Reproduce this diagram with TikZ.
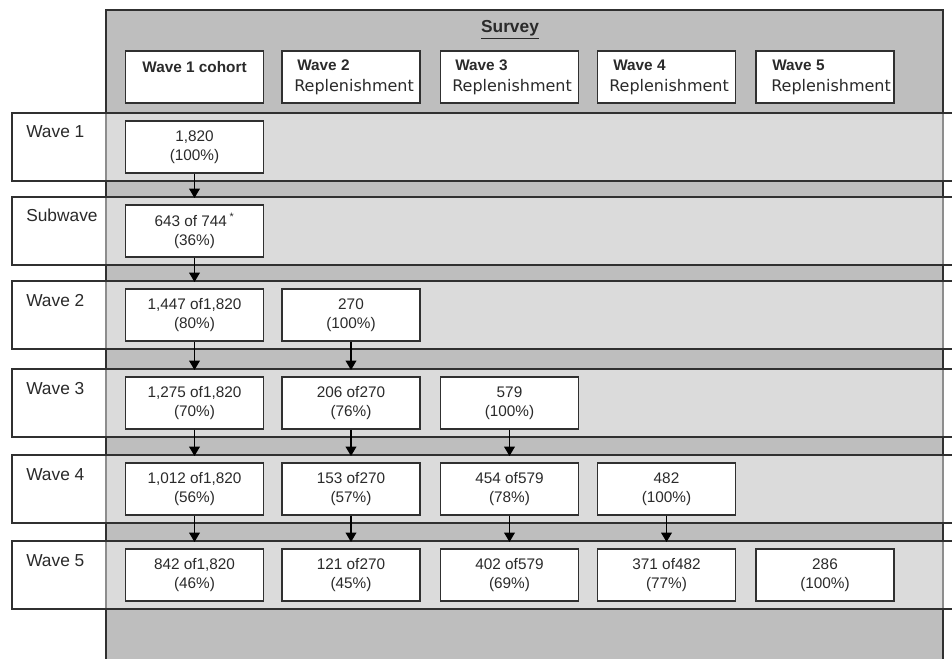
\documentclass[tikz,border=0pt]{standalone}
\usepackage{fontspec}
\setmainfont{Liberation Sans}
\newfontfamily\dvs{DejaVu Sans}
\usetikzlibrary{arrows.meta}
\definecolor{panelc}{HTML}{BEBEBE}
\definecolor{bordc}{HTML}{303030}
\definecolor{textc}{HTML}{2A2A2A}
\newcommand{\datafont}{\fontsize{11.5}{14.25}\selectfont}
\begin{document}
\begin{tikzpicture}[x=0.75pt,y=-0.75pt]
\tikzset{
 hbox/.style={draw=bordc, line width=1pt, fill=white, minimum width=103.5pt, minimum height=39pt, inner sep=0pt},
 dbox/.style={hbox, align=center, font=\datafont, text=textc},
 band/.style={draw=bordc, line width=1pt, fill=white, fill opacity=0.45},
 rowlab/.style={anchor=base west, font=\fontsize{13}{15}\selectfont, text=textc, inner sep=0pt},
 hbold/.style={anchor=base west, font=\fontsize{11.5}{13}\selectfont\bfseries, text=textc, inner sep=0pt},
 hrep/.style={anchor=base west, font=\dvs\fontsize{12}{14}\selectfont, text=textc, inner sep=0pt},
 arr/.style={draw=black, line width=1pt, -{Triangle[width=8pt,length=7pt]}},
}
\useasboundingbox (0,0) rectangle (952,659);
\fill[white] (0,0) rectangle (952,659);
% panel
\fill[panelc] (106,10) rectangle (943,680);
\draw[bordc, line width=1pt] (106,680) -- (106,10) -- (943,10) -- (943,680);
\node[font=\fontsize{13}{15}\selectfont\bfseries, text=textc, inner sep=0pt] (survey) at (510,30) {\underline{Survey}};
% header boxes
\node[hbox] (h1) at (194.5,77) {};
\node[hbox] (h2) at (351,77) {};
\node[hbox] (h3) at (509.5,77) {};
\node[hbox] (h4) at (666.5,77) {};
\node[hbox] (h5) at (825,77) {};
\node[anchor=base, font=\fontsize{11.5}{13}\selectfont\bfseries, text=textc, inner sep=0pt] (h1t) at (194.5,73) {Wave 1 cohort};
\node[hbold] (h2a) at (297,71) {Wave 2};
\node[hrep] (h2b) at (294,92) {Replenishment};
\node[hbold] (h3a) at (455,71) {Wave 3};
\node[hrep] (h3b) at (452,92) {Replenishment};
\node[hbold] (h4a) at (613,71) {Wave 4};
\node[hrep] (h4b) at (609,92) {Replenishment};
\node[hbold] (h5a) at (772,71) {Wave 5};
\node[hrep] (h5b) at (771,92) {Replenishment};
% row bands
\draw[band] (12,113) rectangle (962,181);
\draw[band] (12,197) rectangle (962,265);
\draw[band] (12,281) rectangle (962,349);
\draw[band] (12,369) rectangle (962,437);
\draw[band] (12,455) rectangle (962,523);
\draw[band] (12,541) rectangle (962,609);
\coordinate (t2) at (0,198);
\coordinate (t3) at (0,282);
\coordinate (t4) at (0,370);
\coordinate (t5) at (0,456);
\coordinate (t6) at (0,542);
% row labels
\node[rowlab] (l1) at (26,138) {Wave 1};
\node[rowlab] (l2) at (26,222) {Subwave};
\node[rowlab] (l3) at (26,306) {Wave 2};
\node[rowlab] (l4) at (26,394) {Wave 3};
\node[rowlab] (l5) at (26,480) {Wave 4};
\node[rowlab] (l6) at (26,566) {Wave 5};
% data boxes
\node[dbox] (a1) at (194.5,147) {1,820\\(100\%)};
\node[dbox] (b1) at (194.5,231) {643 of 744\,\textsuperscript{*}\\(36\%)};
\node[dbox] (c1) at (194.5,315) {1,447 of1,820\\(80\%)};
\node[dbox] (c2) at (351,315) {270\\(100\%)};
\node[dbox] (d1) at (194.5,403) {1,275 of1,820\\(70\%)};
\node[dbox] (d2) at (351,403) {206 of270\\(76\%)};
\node[dbox] (d3) at (509.5,403) {579\\(100\%)};
\node[dbox] (e1) at (194.5,489) {1,012 of1,820\\(56\%)};
\node[dbox] (e2) at (351,489) {153 of270\\(57\%)};
\node[dbox] (e3) at (509.5,489) {454 of579\\(78\%)};
\node[dbox] (e4) at (666.5,489) {482\\(100\%)};
\node[dbox] (f1) at (194.5,575) {842 of1,820\\(46\%)};
\node[dbox] (f2) at (351,575) {121 of270\\(45\%)};
\node[dbox] (f3) at (509.5,575) {402 of579\\(69\%)};
\node[dbox] (f4) at (666.5,575) {371 of482\\(77\%)};
\node[dbox] (f5) at (825,575) {286\\(100\%)};
% arrows
\draw[arr] (a1.south) -- (a1.south |- t2);
\draw[arr] (b1.south) -- (b1.south |- t3);
\draw[arr] (c1.south) -- (c1.south |- t4);
\draw[arr] (c2.south) -- (c2.south |- t4);
\draw[arr] (d1.south) -- (d1.south |- t5);
\draw[arr] (d2.south) -- (d2.south |- t5);
\draw[arr] (d3.south) -- (d3.south |- t5);
\draw[arr] (e1.south) -- (e1.south |- t6);
\draw[arr] (e2.south) -- (e2.south |- t6);
\draw[arr] (e3.south) -- (e3.south |- t6);
\draw[arr] (e4.south) -- (e4.south |- t6);
\end{tikzpicture}
\end{document}
